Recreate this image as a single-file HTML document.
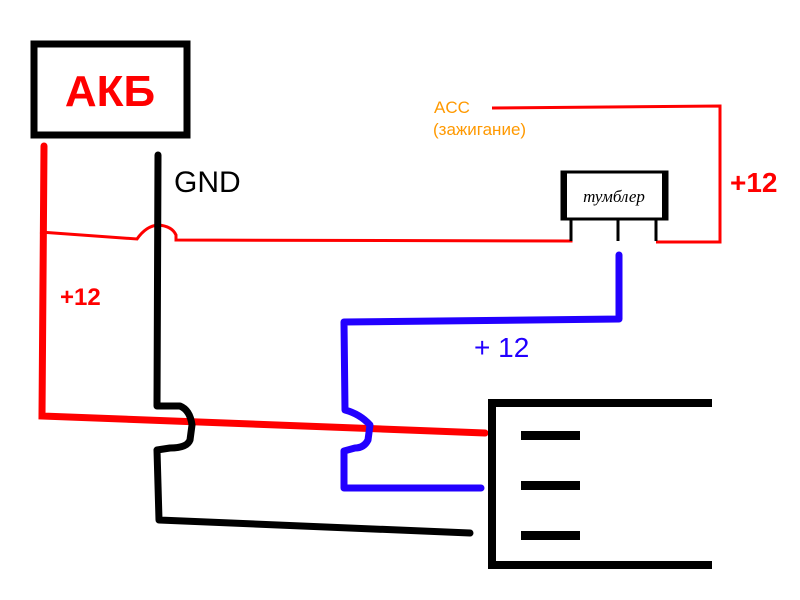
<!DOCTYPE html>
<html><head><meta charset="utf-8"><style>body{margin:0;background:#fff}svg{display:block}</style></head>
<body>
<svg width="800" height="600" viewBox="0 0 800 600" xmlns="http://www.w3.org/2000/svg" font-family="Liberation Sans, DejaVu Sans, sans-serif">
<rect width="800" height="600" fill="#fff"/>
<!-- AKB box -->
<rect x="34" y="44" width="153" height="91" fill="none" stroke="#000" stroke-width="7"/>
<text x="110" y="106" text-anchor="middle" font-size="44" font-weight="bold" fill="#f00">АКБ</text>
<!-- GND label -->
<text x="174" y="192" font-size="30" fill="#000">GND</text>
<!-- red main vertical -->
<path d="M44 146 L42 416 L485 433" fill="none" stroke="#f00" stroke-width="7" stroke-linecap="round"/>
<!-- thin red to switch -->
<path d="M40 232 L137 239 Q146 226 158 225 Q172 226 176 235 L176 240 L571 241 L571 232" fill="none" stroke="#f00" stroke-width="3"/>
<!-- red from switch right to ACC -->
<path d="M656 242 L720 242 L720 106 L492 108" fill="none" stroke="#f00" stroke-width="3"/>
<text x="434" y="113" font-size="17" fill="#f90">ACC</text>
<text x="433" y="135" font-size="17" fill="#f90">(зажигание)</text>
<text x="730" y="192" font-size="28" font-weight="bold" fill="#f00">+12</text>
<text x="60" y="305" font-size="24" font-weight="bold" fill="#f00">+12</text>
<!-- GND black -->
<path d="M158 155 L157 406 L180 406 Q190 410 192 425 L190 440 Q187 448 170 448 L157 450 L159 520 L470 533" fill="none" stroke="#000" stroke-width="7" stroke-linecap="round" stroke-linejoin="round"/>
<!-- blue -->
<path d="M619 255 L619 319 L344 322 L345 410 Q360 414 370 425 L368 440 Q364 448 355 448 L344 451 L344 488 L481 488" fill="none" stroke="#2200ff" stroke-width="7" stroke-linecap="round" stroke-linejoin="round"/>
<text x="474" y="357" font-size="28" fill="#2200ff">+ 12</text>
<!-- switch -->
<rect x="562" y="172" width="105" height="47" fill="#fff" stroke="#000" stroke-width="3"/>
<rect x="562" y="172" width="5" height="47" fill="#000"/>
<rect x="662" y="172" width="5" height="47" fill="#000"/>
<text x="614" y="202" text-anchor="middle" font-size="17" font-style="italic" fill="#000" font-family="Liberation Serif, serif">тумблер</text>
<line x1="571" y1="220" x2="571" y2="241" stroke="#000" stroke-width="3"/>
<line x1="618" y1="220" x2="618" y2="241" stroke="#000" stroke-width="3"/>
<line x1="656" y1="220" x2="656" y2="241" stroke="#000" stroke-width="3"/>
<!-- connector box -->
<path d="M712 403 L492 403 L492 565 L712 565" fill="none" stroke="#000" stroke-width="8"/>
<rect x="521" y="431" width="59" height="9" fill="#000"/>
<rect x="521" y="481" width="59" height="9" fill="#000"/>
<rect x="521" y="531" width="59" height="9" fill="#000"/>
</svg>
</body></html>
